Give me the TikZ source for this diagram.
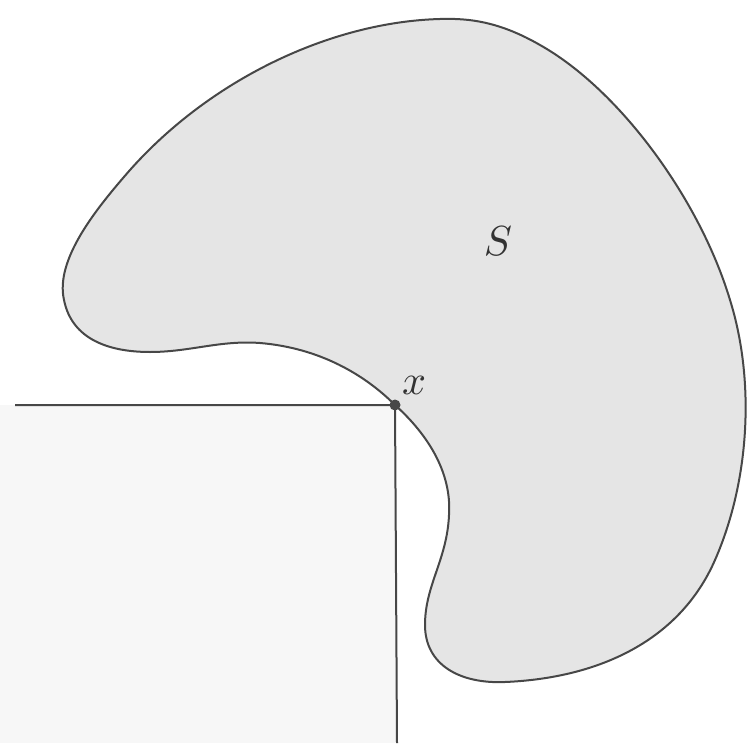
\documentclass[tikz,border=0pt]{standalone}
\begin{document}
\begin{tikzpicture}[x=1pt,y=-1pt,
  edge/.style={draw=black!72,line width=2pt},
  blob/.style={draw=black!72,line width=2pt,fill=black!10},
  lbl/.style={scale=4.2,inner sep=0pt,text=black!80}]
\useasboundingbox (0,0) rectangle (751,743);
\fill[black!3] (0,405) rectangle (396,743);
\path[blob] (395,405)
  .. controls (425,432) and (452,470) .. (449,515)
  .. controls (447,560) and (425,585) .. (425,625)
  .. controls (425,665) and (460,684) .. (505,682)
  .. controls (600,678) and (680,640) .. (715,560)
  .. controls (750,480) and (755,380) .. (730,300)
  .. controls (700,200) and (620,90) .. (540,45)
  .. controls (500,22) and (470,18) .. (440,19)
  .. controls (330,22) and (210,80) .. (130,170)
  .. controls (95,210) and (55,260) .. (64,300)
  .. controls (72,340) and (110,352) .. (150,352)
  .. controls (190,352) and (220,340) .. (260,343)
  .. controls (320,348) and (365,375) .. (395,405) -- cycle;
\coordinate (left) at (15,405);
\coordinate (bottom) at (397,743);
\node[circle,fill=black!72,inner sep=0pt,minimum size=11pt] (x) at (395,405) {};
\draw[edge] (left) -- (x.center) -- (bottom);
\node[lbl] (xl) at (414,385) {$x$};
\node[lbl] (S) at (498,241) {$S$};
\end{tikzpicture}
\end{document}
